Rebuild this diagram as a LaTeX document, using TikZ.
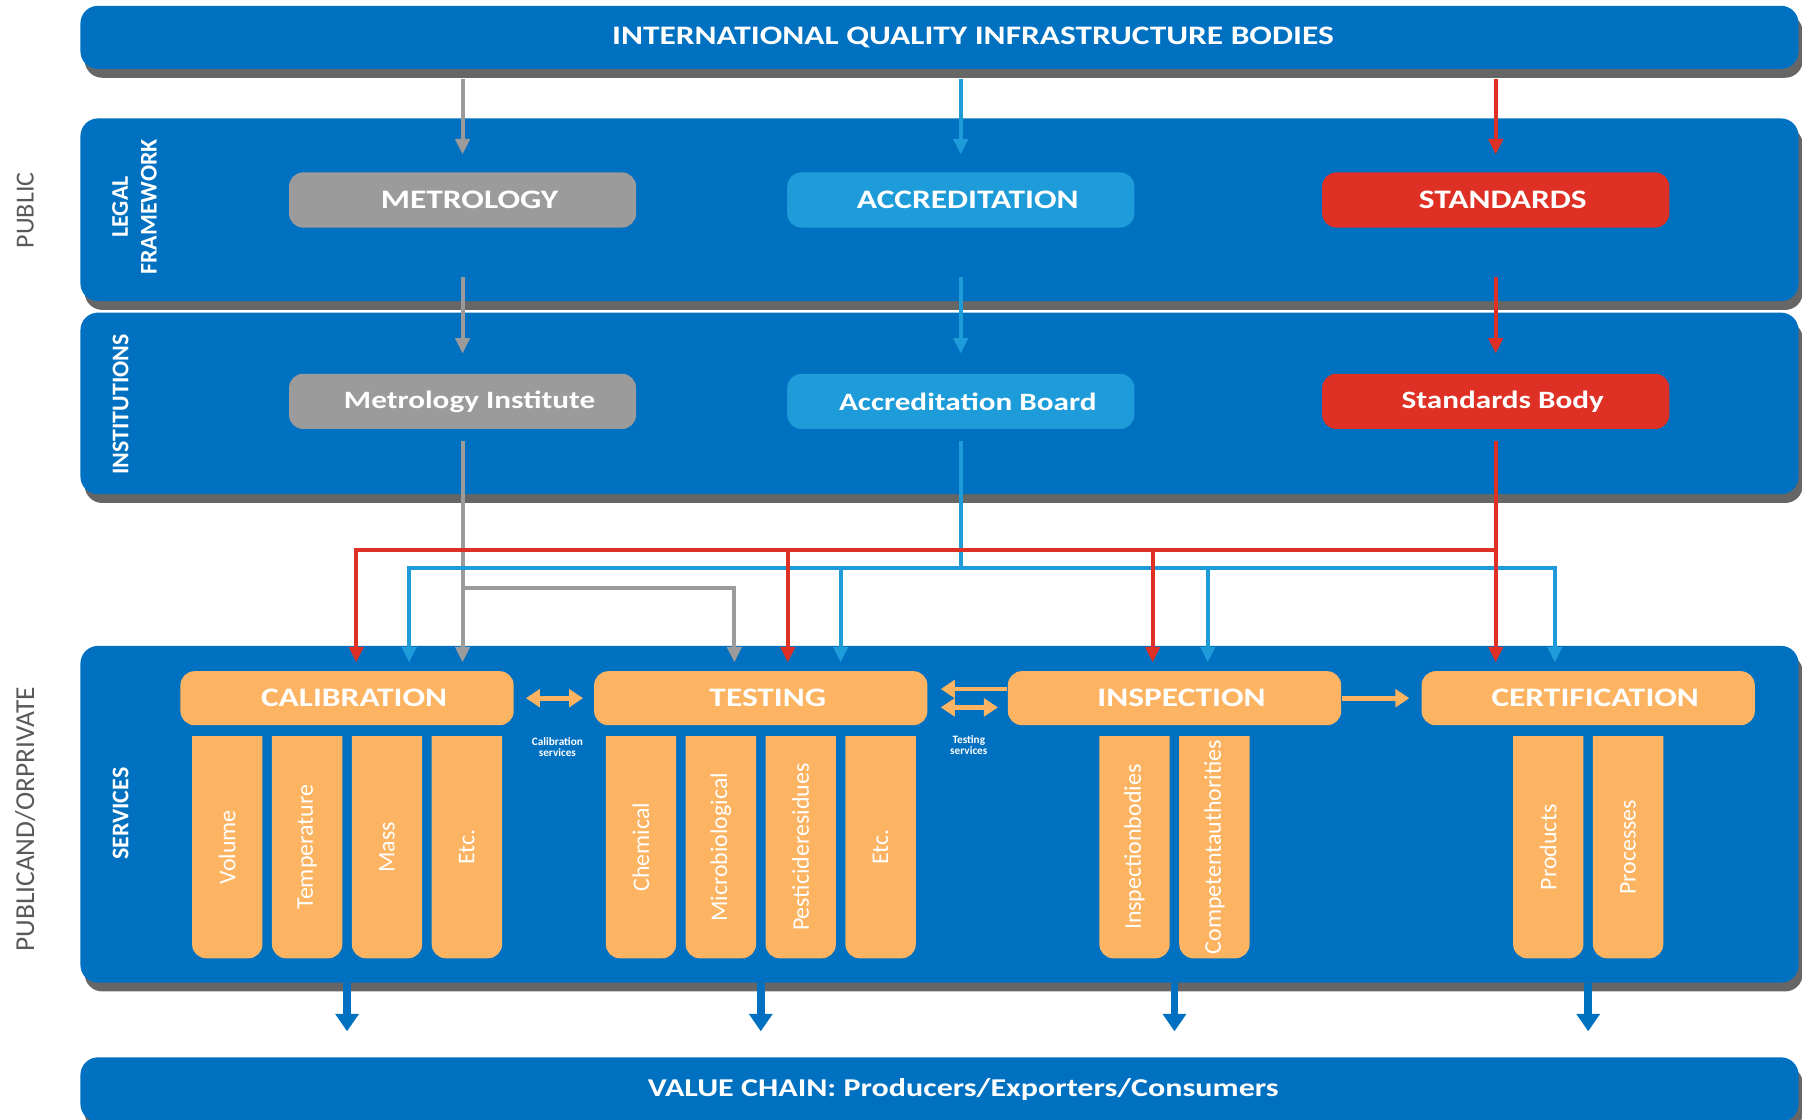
\documentclass[tikz,border=0pt]{standalone}
\usepackage{fontspec}
\setmainfont{Carlito}
\newfontfamily\widefont{Carlito}[FakeStretch=1.25]
\usetikzlibrary{positioning,calc,arrows.meta,shadows}

\definecolor{qiblue}{RGB}{0,112,192}
\definecolor{acclight}{RGB}{30,156,218}
\definecolor{metgray}{RGB}{155,155,155}
\definecolor{stdred}{RGB}{222,48,36}
\definecolor{svcorange}{RGB}{252,180,98}
\definecolor{sidegray}{RGB}{89,89,89}

\newcommand\pu{0.011492cm}

\begin{document}
\begin{tikzpicture}[x=\pu,y=-\pu,
    panel/.style={fill=qiblue,rounded corners=5pt,minimum width=1495*\pu,inner sep=0pt,
        drop shadow={shadow xshift=1.2pt,shadow yshift=-2.5pt,opacity=.6,fill=black}},
    boxtext/.style={text=white,font=\widefont\bfseries\fontsize{7.6}{8}\selectfont,
        execute at begin node={\hspace*{4pt}}},
    mixtext/.style={font=\widefont\bfseries\fontsize{7.1}{8}\selectfont},
    rowbox/.style={boxtext,rounded corners=4pt,minimum width=302*\pu,minimum height=48*\pu},
    svchead/.style={boxtext,fill=svcorange,rounded corners=4pt,minimum width=290*\pu,minimum height=47*\pu},
    svccol/.style={minimum width=60*\pu,minimum height=192*\pu,anchor=north,inner sep=0pt},
    coltext/.style={text=white,inner sep=0pt,font=\fontsize{6.8}{8}\selectfont},
    sidelbl/.style={rotate=90,text=sidegray,font=\fontsize{7.4}{8}\selectfont},
    panellbl/.style={rotate=90,text=white,align=center,font=\bfseries\fontsize{6.8}{8.2}\selectfont},
    tinytext/.style={text=white,align=center,inner sep=0pt,font=\bfseries\fontsize{3.2}{3.2}\selectfont},
    garr/.style={draw=metgray,line width=1.1pt,-{Triangle[length=4.4pt,width=4pt]}},
    barr/.style={draw=acclight,line width=1.1pt,-{Triangle[length=4.4pt,width=4pt]}},
    rarr/.style={draw=stdred,line width=1.1pt,-{Triangle[length=4.4pt,width=4pt]}},
    osgl/.style={draw=svcorange,line width=1.4pt,-{Triangle[length=4pt,width=5pt]}},
    odbl/.style={draw=svcorange,line width=1.4pt,{Triangle[length=4pt,width=5pt]}-{Triangle[length=4pt,width=5pt]}},
    darr/.style={draw=qiblue,line width=2.2pt,-{Triangle[length=5pt,width=6.5pt]}}]

    \clip (0,0) rectangle (1568,974);

    % bands
    \node[panel,minimum height=55*\pu,boxtext,execute at begin node={\hspace*{15pt}}] (intl) at (817.5,32.5) {INTERNATIONAL QUALITY INFRASTRUCTURE BODIES};
    \node[panel,minimum height=159*\pu] (legal) at (817.5,182.5) {};
    \node[panel,minimum height=158*\pu] (inst) at (817.5,351) {};
    \node[panel,minimum height=293*\pu] (svc) at (817.5,708.5) {};
    \node[panel,minimum height=56*\pu,boxtext,font=\widefont\bfseries\fontsize{7.3}{8}\selectfont,
        execute at begin node={\hspace*{9.5pt}}] (valchain) at (817.5,948) {VALUE CHAIN: Producers/Exporters/Consumers};

    \node[sidelbl] (pub) at (22,183) {PUBLIC};
    \node[sidelbl,font=\fontsize{7.8}{8}\selectfont] (pubpriv) at (22,713) {PUBLICAND/ORPRIVATE};
    \node[panellbl] (legallbl) at (117,180) {LEGAL\\FRAMEWORK};
    \node[panellbl] (instlbl) at (105,352) {INSTITUTIONS};
    \node[panellbl] (svclbl) at (105,708) {SERVICES};

    % pillars
    \node[rowbox,fill=metgray] (metro) at (402.5,174) {METROLOGY};
    \node[rowbox,fill=acclight] (acc) at (836,174) {ACCREDITATION};
    \node[rowbox,fill=stdred] (std) at (1301.5,174) {STANDARDS};
    \node[rowbox,mixtext,fill=metgray,below=1.448cm of metro] (metinst) {Metrology Institute};
    \node[rowbox,mixtext,fill=acclight,below=1.448cm of acc] (accboard) {Accreditation Board};
    \node[rowbox,mixtext,fill=stdred,below=1.448cm of std] (stdbody) {Standards Body};

    % services
    \node[svchead] (calib) at (302,607.5) {CALIBRATION};
    \node[svchead,right=0.79cm of calib] (testing) {TESTING};
    \node[svchead,right=0.79cm of testing] (insp) {INSPECTION};
    \node[svchead,right=0.79cm of insp] (cert) {CERTIFICATION};

    \foreach \h/\n/\dx/\t in {calib/vol/-104.25/Volume, calib/temp/-34.75/Temperature,
            calib/mass/34.75/Mass, calib/cetc/104.25/Etc.,
            testing/chem/-104.25/Chemical, testing/micro/-34.75/Microbiological,
            testing/pest/34.75/Pesticideresidues, testing/tetc/104.25/Etc.,
            insp/ibod/-34.75/Inspectionbodies, insp/comp/34.75/Competentauthorities,
            cert/prod/-34.75/Products, cert/proc/34.75/Processes} {
        \node[svccol] (\n) at ($(\h.south)+(\dx,9)$) {};
        \fill[svcorange] (\n.east) -- (\n.north east) -- (\n.north west) -- (\n.west)
            [rounded corners=4pt] -- (\n.south west) -- (\n.south east) -- cycle;
        \node[coltext] (\n-t) at (\n) {\rotatebox{90}{\t}};
    }

    \node[tinytext] (calsvc) at (485,650) {Calibration\\services};
    \node[tinytext] (testsvc) at (843,648) {Testing\\services};

    % top bar down to the pillars
    \foreach \n/\s in {metro/garr,acc/barr,std/rarr}
        \draw[\s] ($(intl.south -| \n.north)+(0,8)$) -- ($(\n.north)+(0,-15)$);
    \foreach \a/\b/\s in {metro/metinst/garr,acc/accboard/barr,std/stdbody/rarr}
        \draw[\s] ($(\a.south)+(0,42)$) -- ($(\b.north)+(0,-17)$);

    % institutions down to services
    \coordinate (rbus) at ($(stdbody.south)+(0,105)$);
    \coordinate (bbus) at ($(accboard.south)+(0,120)$);
    \coordinate (gbus) at ($(metinst.south)+(0,138)$);

    \draw[garr] ($(metinst.south)+(0,10)$) -- ($(metinst.south |- calib.north)+(0,-7)$);
    \draw[garr] (gbus) -| ($(testing.north)+(-23,-7)$);
    \draw[barr,-] ($(accboard.south)+(0,10)$) -- (bbus);
    \foreach \t/\dx in {calib/54,testing/69.5,insp/29,cert/-29}
        \draw[barr] (bbus) -| ($(\t.north)+(\dx,-7)$);
    \draw[rarr] ($(stdbody.south)+(0,10)$) -- ($(stdbody.south |- cert.north)+(0,-7)$);
    \foreach \t/\dx in {calib/8,testing/23.5,insp/-19}
        \draw[rarr] (rbus) -| ($(\t.north)+(\dx,-7)$);

    % between services
    \draw[odbl] ($(calib.east)+(10,0)$) -- ($(testing.west)+(-9,0)$);
    \draw[osgl] ($(insp.west)+(0,-8)$) -- ($(testing.east)+(11,-8)$);
    \draw[odbl] ($(testing.east)+(11,8)$) -- ($(insp.west)+(-8,8)$);
    \draw[osgl] (insp.east) -- ($(cert.west)+(-10,0)$);

    % services to value chain
    \foreach \t in {calib,testing,insp,cert}
        \draw[darr] (\t |- svc.south) -- ($(\t |- valchain.north)+(0,-22)$);
\end{tikzpicture}
\end{document}
